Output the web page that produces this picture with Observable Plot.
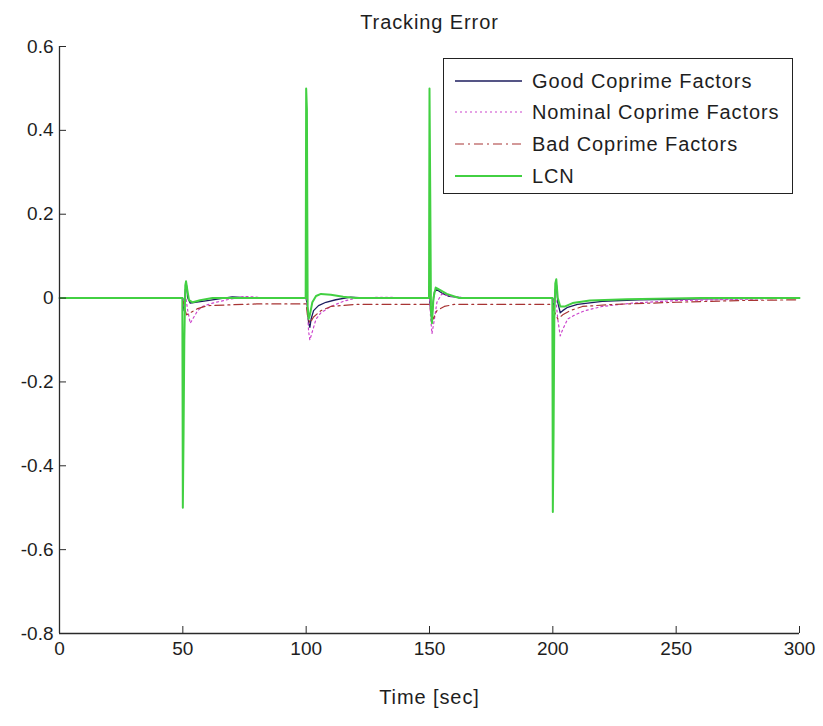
<!DOCTYPE html>
<html>
<head>
<meta charset="utf-8">
<script src="https://cdn.jsdelivr.net/npm/d3@7"></script>
<script src="https://cdn.jsdelivr.net/npm/@observablehq/plot@0.6"></script>
<style>
  body { margin: 0; background: #fff; }
  #wrap { position: relative; width: 823px; height: 726px; font-family: Arial, "Liberation Sans", sans-serif; color: #1e1e1e; }
  #legend { position: absolute; left: 443px; top: 58px; width: 350px; height: 136px; border: 1px solid #222; background: #fff; box-sizing: border-box; }
  .row { position: absolute; left: 0; height: 24px; display: flex; align-items: center; }
  .row svg { margin-left: 11px; }
  .row span { margin-left: 10px; font-size: 20px; letter-spacing: 0.9px; white-space: nowrap; }
</style>
</head>
<body>
<div id="wrap"></div>
<script>
// ---------- data ----------
const chartTitle = "Tracking Error";
const xLabel = "Time [sec]";
const xTicks = [0, 50, 100, 150, 200, 250, 300];
const yTicks = [-0.8, -0.6, -0.4, -0.2, 0, 0.2, 0.4, 0.6];
const seriesNames = ["Good Coprime Factors", "Nominal Coprime Factors", "Bad Coprime Factors", "LCN"];

const tGood = [0, 50, 50.5, 51, 51.5, 52, 53, 55, 60, 70, 80, 100,
  100.5, 101, 101.5, 102, 103, 105, 108, 112, 118, 125, 150,
  150.5, 151, 151.5, 152, 153, 155, 158, 165, 200,
  200.5, 201, 201.5, 202, 203, 204, 206, 210, 220, 235, 260, 300];
const vGood = [0, 0, -0.03, 0.02, 0.03, 0.0, -0.012, -0.01, -0.006, 0.003, 0.0, 0,
  -0.02, -0.06, -0.07, -0.05, -0.03, -0.018, -0.01, -0.004, 0.002, 0.0, 0,
  -0.03, -0.045, -0.01, 0.015, 0.02, 0.012, 0.004, 0.0, 0,
  -0.03, 0.02, 0.03, -0.01, -0.035, -0.03, -0.022, -0.015, -0.008, -0.004, -0.002, 0];

const tNominal = [0, 50, 50.5, 51, 52, 53, 54, 56, 58, 62, 68, 75, 85, 100,
  100.5, 101, 101.5, 102.5, 104, 106, 110, 115, 120, 130, 150,
  150.5, 151, 152, 153, 155, 158, 165, 200,
  200.5, 201, 202, 203, 204, 206, 209, 213, 220, 232, 250, 275, 300];
const vNominal = [0, 0, -0.02, 0.01, -0.03, -0.06, -0.05, -0.03, -0.02, -0.012, -0.004, 0.004, 0.0, 0,
  -0.03, -0.08, -0.1, -0.08, -0.05, -0.035, -0.02, -0.008, 0.0, 0.002, 0,
  -0.05, -0.085, -0.05, -0.01, 0.01, 0.005, 0, 0,
  -0.02, 0.01, -0.05, -0.09, -0.075, -0.05, -0.04, -0.03, -0.02, -0.012, -0.006, -0.003, 0];

const tBad = [0, 50, 50.5, 51.5, 53, 56, 60, 80, 100,
  100.5, 101.5, 103, 106, 110, 120, 150,
  150.5, 151.5, 153, 156, 160, 200,
  200.5, 202, 204, 207, 212, 225, 250, 275, 300];
const vBad = [0, 0, -0.02, -0.04, -0.035, -0.025, -0.018, -0.014, -0.014,
  -0.04, -0.06, -0.045, -0.03, -0.02, -0.015, -0.015,
  -0.03, -0.05, -0.03, -0.02, -0.015, -0.015,
  -0.03, -0.05, -0.04, -0.03, -0.02, -0.015, -0.01, -0.006, -0.004];

const tLCN = [0, 49.8, 50, 50.3, 50.6, 51, 51.3, 51.8, 52.5, 54, 57, 62, 99.8,
  100, 100.3, 100.6, 101, 101.5, 102.5, 104, 106, 110, 115, 120, 149.8,
  150, 150.3, 150.6, 151, 151.6, 152.5, 154, 157, 162, 199.8,
  200, 200.3, 200.6, 201, 201.4, 202, 203, 205, 208, 215, 230, 260, 300];
const vLCN = [0, 0, -0.5, -0.32, -0.1, 0.03, 0.04, 0.02, -0.005, -0.01, -0.005, 0.0, 0,
  0.5, 0.45, -0.02, -0.05, -0.04, -0.01, 0.005, 0.01, 0.008, 0.003, 0, 0,
  0.5, 0.25, -0.03, -0.06, 0.0, 0.025, 0.02, 0.01, 0, 0,
  -0.51, -0.32, -0.05, 0.035, 0.045, 0.0, -0.02, -0.02, -0.012, -0.006, -0.003, 0, 0];

// ---------- styles ----------
const colors = ["#1c1c5e", "#cc44cc", "#a83434", "#42d042"];
const dashes = [null, "2,3", "9,4,2,4", null];
const widths = [1.3, 1.2, 1.2, 2];

const toRows = (T, V) => T.map((t, i) => ({t, v: V[i]}));
const series = [toRows(tGood, vGood), toRows(tNominal, vNominal), toRows(tBad, vBad), toRows(tLCN, vLCN)];

const font = "Arial, 'Liberation Sans', sans-serif";
const fmt = d => String(d);

const chart = Plot.plot({
  width: 823,
  height: 726,
  marginTop: 46,
  marginBottom: 93,
  marginLeft: 59,
  marginRight: 24,
  style: {fontFamily: font, fontSize: "19px", color: "#1e1e1e", background: "#fff"},
  x: {domain: [0, 300]},
  y: {domain: [-0.8, 0.6]},
  marks: [
    ...series.map((d, i) => Plot.line(d, {
      x: "t", y: "v", stroke: colors[i], strokeWidth: widths[i],
      strokeDasharray: dashes[i] ?? undefined
    })),
    Plot.ruleX([0], {stroke: "#2a2a2a", strokeWidth: 1.3}),
    Plot.ruleY([-0.8], {stroke: "#2a2a2a", strokeWidth: 1.3}),
    Plot.axisX({ticks: xTicks, tickFormat: fmt, tickSize: -7, tickPadding: 15, label: null, stroke: "#2a2a2a", fontSize: 19}),
    Plot.axisY({ticks: yTicks, tickFormat: fmt, tickSize: -7, tickPadding: 13, label: null, stroke: "#2a2a2a", fontSize: 19}),
    Plot.text([chartTitle], {text: d => d, frameAnchor: "top", dy: -32, fontSize: 20, fill: "#1e1e1e", style: "letter-spacing:0.9px"}),
    Plot.text([xLabel], {text: d => d, frameAnchor: "bottom", dy: 70, fontSize: 20, fill: "#1e1e1e"})
  ]
});

const wrap = document.getElementById("wrap");
wrap.appendChild(chart);
// letter spacing on title / x label texts
chart.querySelectorAll("text").forEach(t => {
  if (t.textContent === chartTitle || t.textContent === xLabel) t.setAttribute("letter-spacing", "0.9");
});

// legend
const legend = document.createElement("div");
legend.id = "legend";
const rowTops = [10, 41, 73, 105];
seriesNames.forEach((name, i) => {
  const row = document.createElement("div");
  row.className = "row";
  row.style.top = rowTops[i] + "px";
  const ns = "http://www.w3.org/2000/svg";
  const s = document.createElementNS(ns, "svg");
  s.setAttribute("width", 67); s.setAttribute("height", 10);
  const l = document.createElementNS(ns, "line");
  l.setAttribute("x1", 0); l.setAttribute("x2", 67); l.setAttribute("y1", 5); l.setAttribute("y2", 5);
  l.setAttribute("stroke", colors[i]); l.setAttribute("stroke-width", widths[i]);
  if (dashes[i]) l.setAttribute("stroke-dasharray", dashes[i]);
  s.appendChild(l);
  const sp = document.createElement("span");
  sp.textContent = name;
  row.appendChild(s); row.appendChild(sp);
  legend.appendChild(row);
});
wrap.appendChild(legend);
</script>
</body>
</html>
